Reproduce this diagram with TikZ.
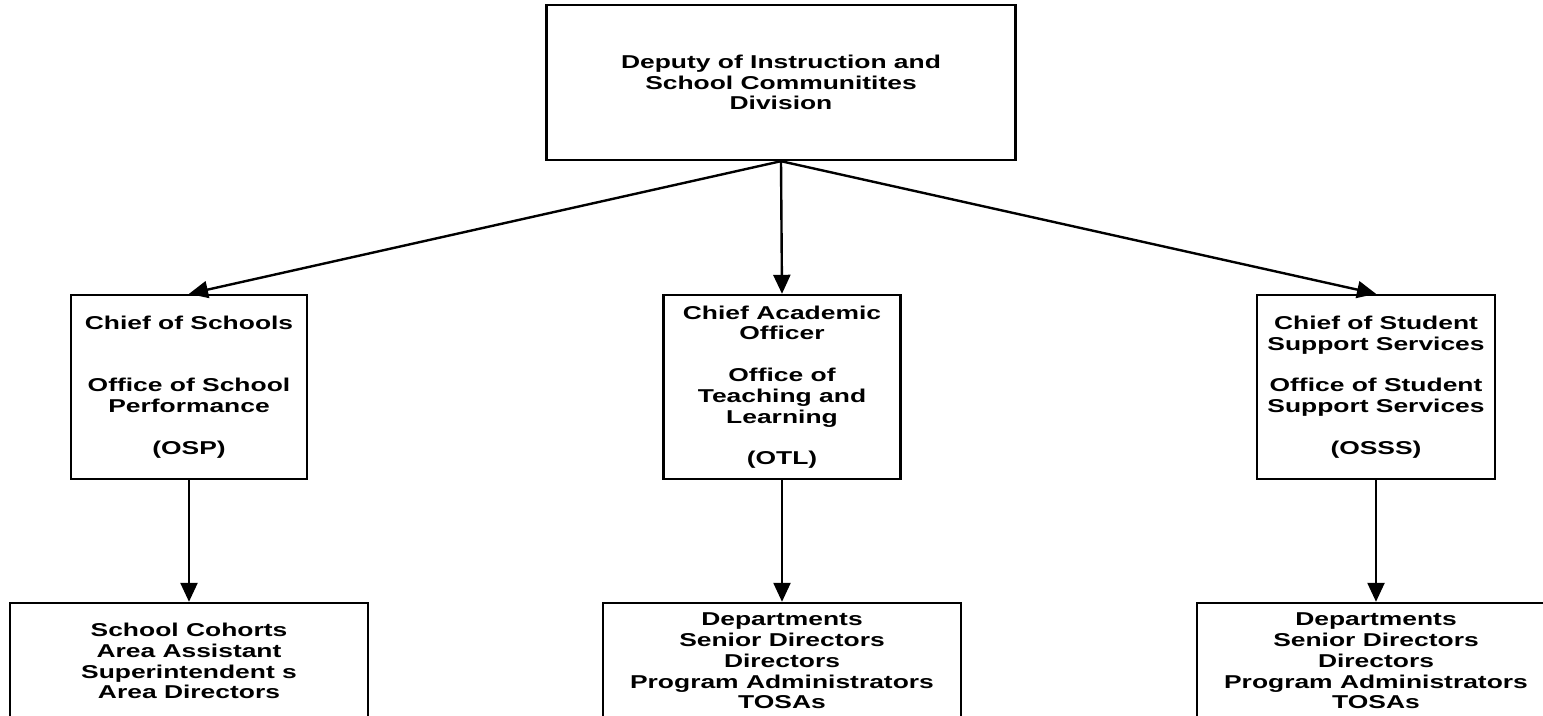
\documentclass[tikz,border=0pt]{standalone}
\usepackage{fontspec}
\setmainfont{Liberation Sans}[FakeStretch=1.42]
\usetikzlibrary{arrows.meta}

\begin{document}
\begin{tikzpicture}[x=0.5pt,y=-0.5pt,
		box/.style={draw,line width=1.2pt,rectangle,align=center,inner sep=0pt,font=\bfseries\fontsize{9.3}{10.4}\selectfont},
		arr/.style={-{Triangle[length=9.5pt,width=8.5pt]},line width=1.2pt}]
				\useasboundingbox (0,0) rectangle (1543,716);
				% top
				\node[box,minimum width=234.5pt,minimum height=77.5pt] (deputy) at (781,82.5) {Deputy of Instruction and\\ School Communitites\\ Division};
				% offices
				\node[box,minimum width=118pt,minimum height=92pt] (osp) at (189,387) {Chief of Schools\\[20.8pt] Office of School\\ Performance\\[10.4pt] (OSP)};
				\node[box,minimum width=118.5pt,minimum height=92pt] (otl) at (782,387) {Chief Academic\\ Officer\\[10.4pt] Office of\\ Teaching and\\ Learning\\[10.4pt] (OTL)};
				\node[box,minimum width=119pt,minimum height=92pt] (osss) at (1376,387) {Chief of Student\\ Support Services\\[10.4pt] Office of Student\\ Support Services\\[10.4pt] (OSSS)};
				% departments
				\node[box,minimum width=179pt,minimum height=58pt] (cohorts) at (189,661) {School Cohorts\\ Area Assistant\\ Superintendent s\\ Area Directors};
				\node[box,minimum width=179pt,minimum height=58pt] (otldep) at (782,661) {Departments\\ Senior Directors\\ Directors\\ Program Administrators\\ TOSAs};
				\node[box,minimum width=179pt,minimum height=58pt] (osssdep) at (1376,661) {Departments\\ Senior Directors\\ Directors\\ Program Administrators\\ TOSAs};
				\draw[arr] (deputy.south) -- (osp.north);
				\draw[arr] (deputy.south) -- (otl.north);
				\draw[arr] (deputy.south) -- (osss.north);
				\draw[arr] (osp.south) -- (cohorts.north);
				\draw[arr] (otl.south) -- (otldep.north);
				\draw[arr] (osss.south) -- (osssdep.north);
			\end{tikzpicture}
\end{document}
